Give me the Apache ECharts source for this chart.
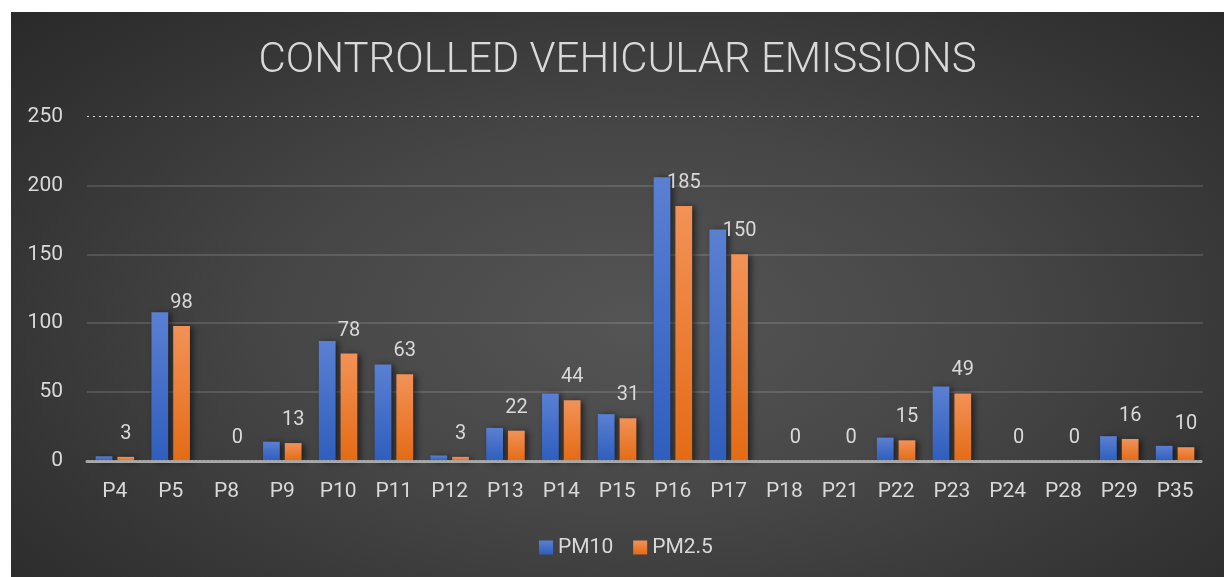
<!DOCTYPE html>
<html>
<head>
<meta charset="utf-8">
<script src="https://cdn.jsdelivr.net/npm/echarts@6/dist/echarts.min.js"></script>
<style>
  html, body { margin: 0; padding: 0; background: #ffffff; width: 1224px; height: 577px; overflow: hidden; }
  #chart {
    position: absolute; left: 11px; top: 12px; width: 1213px; height: 565px;
    background: radial-gradient(ellipse 75% 85% at 52% 55%, #555555 0%, #464646 40%, #333333 75%, #272727 100%);
  }
</style>
</head>
<body>
<div id="chart"></div>
<script>
const categories = ['P4','P5','P8','P9','P10','P11','P12','P13','P14','P15','P16','P17','P18','P21','P22','P23','P24','P28','P29','P35'];
const pm10 = [3.4, 108, 0, 14, 87, 70, 4, 24, 49, 34, 206, 168, 0, 0, 17, 54, 0, 0, 18, 11];
const pm25 = [3, 98, 0, 13, 78, 63, 3, 22, 44, 31, 185, 150, 0, 0, 15, 49, 0, 0, 16, 10];
const yTicks = { min: 0, max: 250, interval: 50 };

const FONT = 'Roboto, "Open Sans", sans-serif';
const TXT = '#d9d9d9';

function grad(top, bottom) {
  return new echarts.graphic.LinearGradient(0, 0, 0, 1, [
    { offset: 0, color: top }, { offset: 1, color: bottom }
  ]);
}

const chart = echarts.init(document.getElementById('chart'), null, { renderer: 'canvas' });
chart.setOption({
  backgroundColor: 'transparent',
  animation: false,
  title: {
    text: 'CONTROLLED VEHICULAR EMISSIONS',
    left: 'center',
    top: 23,
    textStyle: { color: TXT, fontFamily: FONT, fontWeight: 300, fontSize: 42 }
  },
  legend: {
    data: ['PM10', 'PM2.5'],
    left: 523,
    top: 520,
    icon: 'rect',
    itemWidth: 14,
    itemHeight: 14,
    itemGap: 20,
    textStyle: { color: TXT, fontFamily: FONT, fontSize: 21 }
  },
  grid: { left: 76, right: 21, top: 104.5, bottom: 116, containLabel: false },
  xAxis: {
    type: 'category',
    data: categories,
    z: 5,
    axisLine: { show: true, lineStyle: { color: '#a8a8a8', width: 3, type: [2, 2] } },
    axisTick: { show: false },
    axisLabel: { color: TXT, fontFamily: FONT, fontSize: 21, margin: 20 }
  },
  yAxis: {
    type: 'value',
    min: yTicks.min,
    max: yTicks.max,
    interval: yTicks.interval,
    axisLine: { show: false },
    axisTick: { show: false },
    axisLabel: { color: TXT, fontFamily: FONT, fontSize: 21, margin: 24 },
    splitLine: {
      show: true,
      lineStyle: {
        color: ['rgba(255,255,255,0.13)', 'rgba(255,255,255,0.13)', 'rgba(255,255,255,0.13)',
                'rgba(255,255,255,0.13)', 'rgba(255,255,255,0.13)', 'rgba(0,0,0,0)'],
        width: 2
      }
    }
  },
  series: [
    {
      name: 'PM10',
      type: 'bar',
      data: pm10,
      barGap: '30%',
      barCategoryGap: '31%',
      itemStyle: {
        color: grad('#5a80d2', '#2f5ebd'),
        shadowColor: 'rgba(0,0,0,0.55)', shadowBlur: 6, shadowOffsetX: 3, shadowOffsetY: 1
      },
      markLine: {
        silent: true,
        symbol: 'none',
        label: { show: false },
        lineStyle: { color: '#d9d9d9', width: 1, type: [2, 4] },
        data: [{ yAxis: 250 }]
      }
    },
    {
      name: 'PM2.5',
      type: 'bar',
      data: pm25,
      itemStyle: {
        color: grad('#f29257', '#e46b15'),
        shadowColor: 'rgba(0,0,0,0.55)', shadowBlur: 6, shadowOffsetX: 3, shadowOffsetY: 1
      },
      label: {
        show: true,
        position: 'top',
        distance: 13,
        color: TXT,
        fontFamily: FONT,
        fontSize: 20
      }
    }
  ]
});
</script>
</body>
</html>
